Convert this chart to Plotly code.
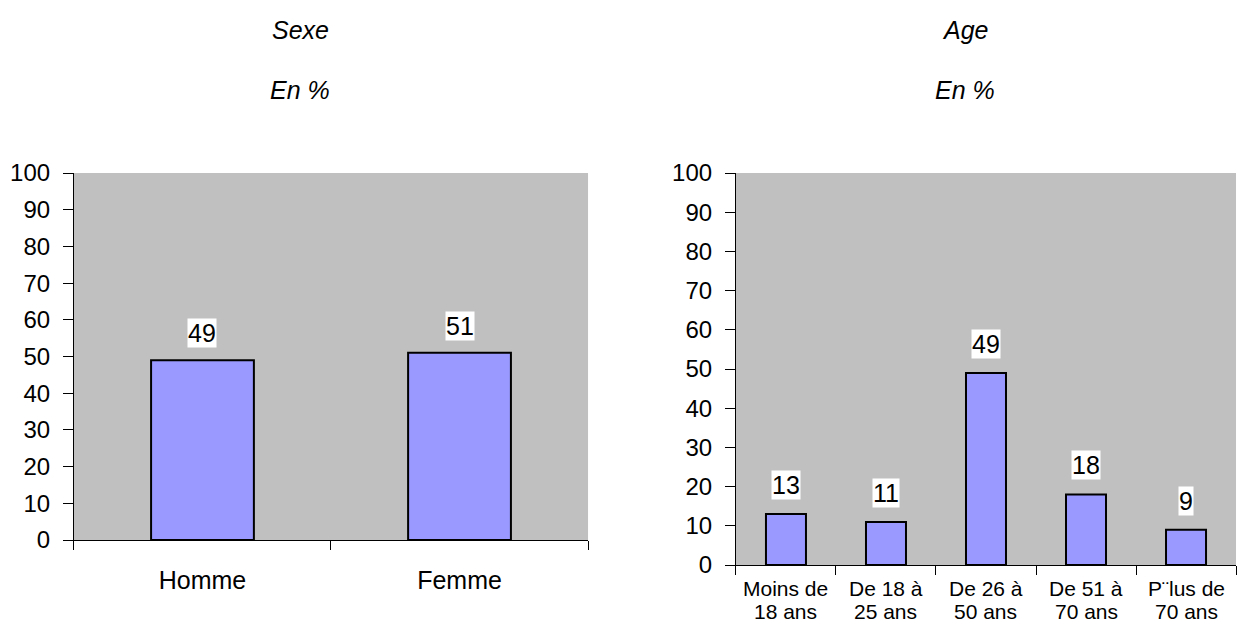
import plotly.graph_objects as go

# Survey breakdown by sex and by age group (percent)
sexe_labels = ["Homme", "Femme"]
sexe_values = [49, 51]

# Age group categories, each drawn as a two-line label under the axis
age_labels = ["Moins de 18 ans", "De 18 à 25 ans", "De 26 à 50 ans",
              "De 51 à 70 ans", "P¨lus de 70 ans"]
age_label_lines = [("Moins de", "18 ans"), ("De 18 à", "25 ans"), ("De 26 à", "50 ans"),
                   ("De 51 à", "70 ans"), ("P¨lus de", "70 ans")]
age_values = [13, 11, 49, 18, 9]

y_ticks = list(range(0, 101, 10))

BAR_FILL = "#9999FF"
PLOT_BG = "#C0C0C0"
FONT = "Liberation Sans, Arial, sans-serif"
W, H = 1239, 625

fig = go.Figure()

fig.add_trace(go.Bar(
    x=sexe_labels, y=sexe_values, xaxis="x", yaxis="y",
    marker=dict(color=BAR_FILL, line=dict(color="black", width=2)),
    width=0.4, showlegend=False, hoverinfo="skip",
))
fig.add_trace(go.Bar(
    x=age_labels, y=age_values, xaxis="x2", yaxis="y2",
    marker=dict(color=BAR_FILL, line=dict(color="black", width=2)),
    width=0.4, showlegend=False, hoverinfo="skip",
))

yaxis_common = dict(
    range=[0, 100], tickvals=y_ticks, showgrid=False, zeroline=False,
    showline=True, linecolor="black", linewidth=1,
    ticks="outside", ticklen=10, tickcolor="black", ticklabelstandoff=8,
    tickfont=dict(family=FONT, size=24, color="black"),
    fixedrange=True, automargin=False,
)
xaxis_common = dict(
    showgrid=False, zeroline=False, showline=True, linecolor="black", linewidth=1,
    ticks="outside", ticklen=9, tickcolor="black", tickson="boundaries",
    fixedrange=True, automargin=False,
)

fig.update_layout(
    width=W, height=H,
    margin=dict(l=0, r=0, t=0, b=0),
    paper_bgcolor="white", plot_bgcolor=PLOT_BG,
    bargap=0.6,
    xaxis=dict(domain=[0.0597, 0.4746], anchor="y",
               tickfont=dict(family=FONT, size=25, color="black"),
               ticklabelstandoff=18, **xaxis_common),
    yaxis=dict(domain=[0.136, 0.7232], anchor="x", **yaxis_common),
    xaxis2=dict(domain=[0.594, 0.9976], anchor="y2", showticklabels=False,
                **xaxis_common),
    yaxis2=dict(domain=[0.096, 0.7232], anchor="x2", **yaxis_common),
)

annotations = []
title_font = dict(family=FONT, size=25, color="black", style="italic")
for xc, txt in [(300, "Sexe"), (965, "Age")]:
    annotations.append(dict(text=txt, x=xc / W, y=1 - 30 / H, xref="paper", yref="paper",
                            showarrow=False, font=title_font, xanchor="center", yanchor="middle"))
    annotations.append(dict(text="En %", x=xc / W, y=1 - 90 / H, xref="paper", yref="paper",
                            showarrow=False, font=title_font, xanchor="center", yanchor="middle"))

# Two-line category labels for the age chart, with tight line spacing;
# the second line sits on the bottom edge of the page
cat_font = dict(family=FONT, size=21, color="black")
for lab, (l1, l2) in zip(age_labels, age_label_lines):
    annotations.append(dict(text=l2, x=lab, y=0, xref="x2", yref="paper",
                            showarrow=False, font=cat_font,
                            xanchor="center", yanchor="bottom"))
    annotations.append(dict(text=l1, x=lab, y=0, xref="x2", yref="paper", yshift=23,
                            showarrow=False, font=cat_font,
                            xanchor="center", yanchor="bottom"))

label_font = dict(family=FONT, size=25, color="black")
for lab, val in zip(sexe_labels, sexe_values):
    annotations.append(dict(text=str(val), x=lab, y=val, xref="x", yref="y",
                            showarrow=False, yshift=27, bgcolor="white", borderpad=0,
                            font=label_font))
for lab, val in zip(age_labels, age_values):
    annotations.append(dict(text=str(val), x=lab, y=val, xref="x2", yref="y2",
                            showarrow=False, yshift=29, bgcolor="white", borderpad=0,
                            font=label_font))

fig.update_layout(annotations=annotations)

fig.write_html("out.html")
